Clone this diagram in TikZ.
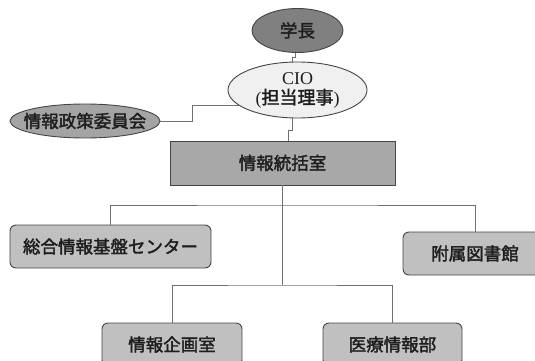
\documentclass[tikz,border=0pt]{standalone}
\usepackage{fontspec}
\setmainfont{Liberation Serif}
\newfontfamily\jp[FakeBold=2]{Noto Sans CJK JP}
\usetikzlibrary{shapes.geometric}
\definecolor{linegray}{HTML}{707070}
\definecolor{edgegray}{HTML}{444444}
\definecolor{textc}{HTML}{1E1E1E}
\definecolor{darkfill}{HTML}{808080}
\definecolor{ciofill}{HTML}{F0F0F0}
\definecolor{midfill}{HTML}{A4A4A4}
\definecolor{sqfill}{HTML}{A8A8A8}
\definecolor{boxfill}{HTML}{C0C0C0}
\begin{document}
\begin{tikzpicture}[x=1pt,y=-1pt,
  conn/.style={draw=linegray, line width=1pt},
  jpfont/.style={font=\jp\fontsize{17.5}{20}\selectfont},
  ell/.style={ellipse, draw=edgegray, line width=0.9pt, inner sep=0pt, text=textc, jpfont},
  sqbox/.style={rectangle, draw=edgegray, line width=0.9pt, inner sep=0pt, text=textc, jpfont},
  rbox/.style={sqbox, rounded corners=6pt, fill=boxfill}
]
\useasboundingbox (0,0) rectangle (535,361);
\node[ell, fill=darkfill, minimum width=91pt, minimum height=44pt] (gk) at (297.5,30.5) {\makebox[0pt]{学長}};
\node[ell, fill=ciofill, minimum width=139pt, minimum height=56pt, align=center]
  (cio) at (297.5,90) {\makebox[0pt]{\rmfamily\fontsize{18}{21}\selectfont CIO}\\\makebox[0pt]{\rmfamily\fontsize{18}{21}\selectfont(\jp 担当理事\rmfamily)}};
\node[ell, fill=midfill, minimum width=150pt, minimum height=34pt] (iin) at (85,121) {\makebox[0pt]{情報政策委員会}};
\node[sqbox, fill=sqfill, minimum width=225pt, minimum height=44pt] (tj) at (282.5,163) {情報統括室};
\node[rbox, minimum width=201pt, minimum height=43pt] (sg) at (110.5,246.5) {総合情報基盤センター};
\node[rbox, minimum width=144pt, minimum height=43pt] (fz) at (475,253.5) {附属図書館};
\node[rbox, minimum width=140pt, minimum height=43pt] (kk) at (172,344.5) {情報企画室};
\node[rbox, minimum width=139pt, minimum height=43pt] (ir) at (392.5,344.5) {医療情報部};
\coordinate (j1) at (282.5,205);
\coordinate (j2) at (282.5,285);
\draw[conn] ([xshift=-2.5pt]gk.south) -- ++(0,5) -| ([xshift=-5.5pt]cio.north);
\draw[conn] ([xshift=-5.5pt]cio.south) -- ++(0,12) -| ([xshift=5.5pt]tj.north);
\draw[conn] (iin.east) -- ++(32,0) |- (cio.195);
\draw[conn] (tj.south) -- (j2);
\draw[conn] (sg.north) |- (j1) -| (fz.north);
\draw[conn] (kk.north) |- (j2) -| (ir.north);
\end{tikzpicture}
\end{document}
